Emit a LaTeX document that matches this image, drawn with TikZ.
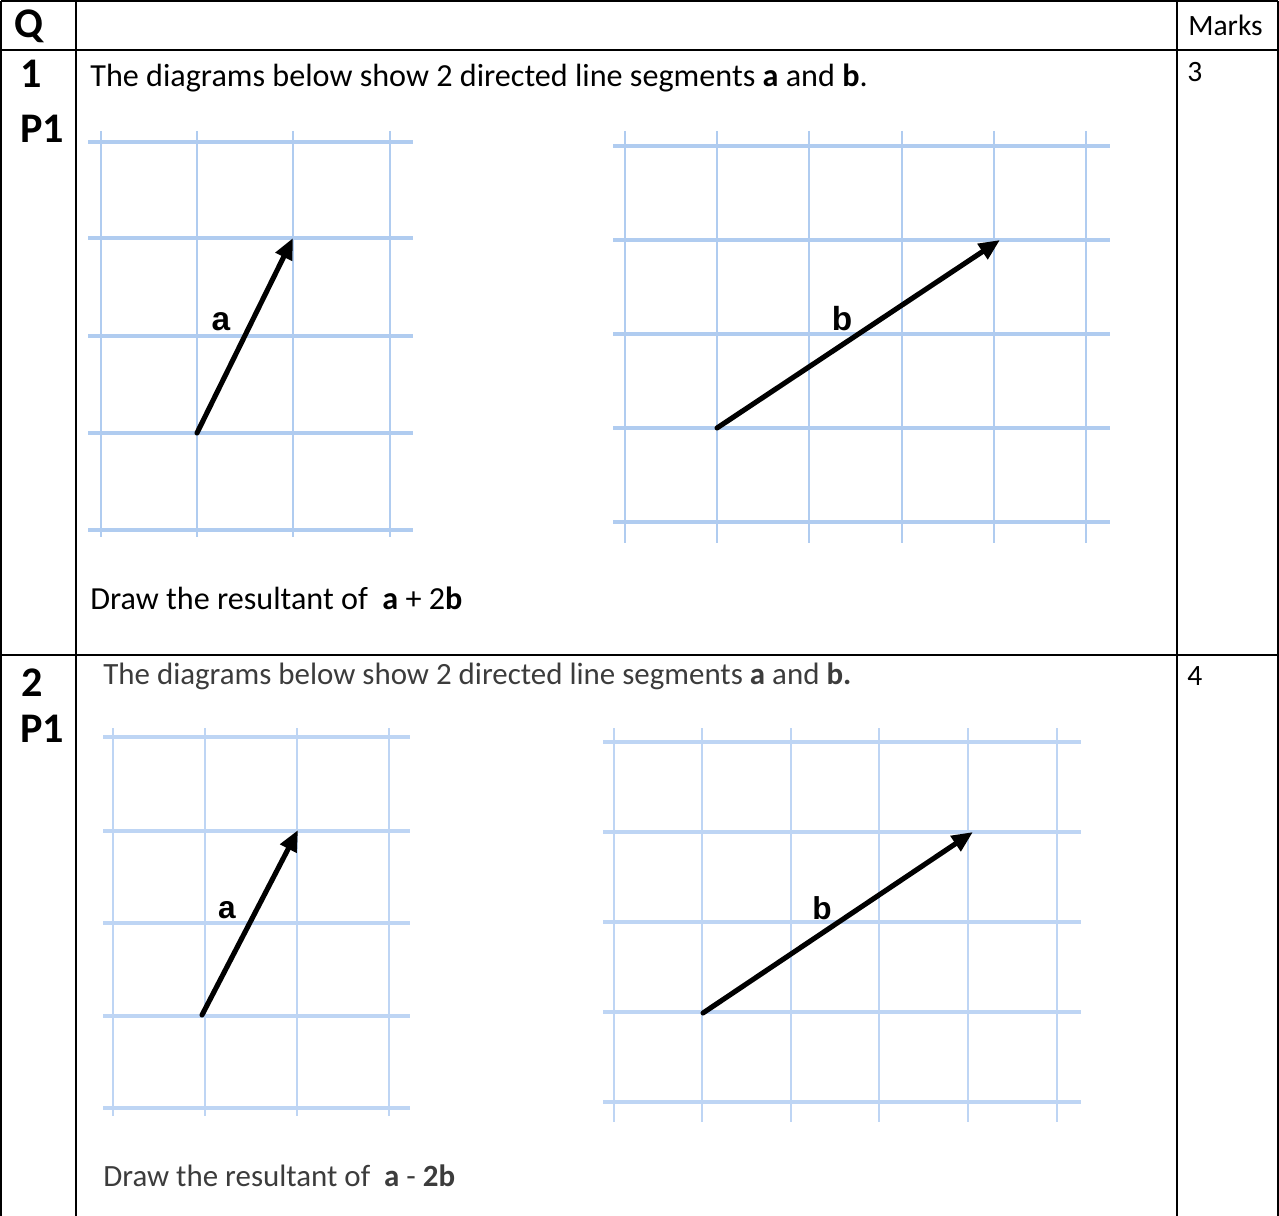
\documentclass[tikz,border=0pt]{standalone}
\usepackage{fontspec}
\setmainfont{Carlito}
\newfontfamily\arialfont{Liberation Sans}
\usetikzlibrary{arrows.meta}

\definecolor{gridblue}{RGB}{176,204,240}
\definecolor{fadeblue}{RGB}{190,213,244}
\definecolor{scangrey}{RGB}{60,60,60}

\tikzset{
  rule/.style={draw=black, line width=1.1pt},
  gridh/.style={line width=2.1pt},
  gridv/.style={line width=1.1pt},
  vec/.style={draw=black, line width=2.9pt, line cap=round, -{Triangle[length=12pt,width=10pt]}},
  veclabel/.style={font=\arialfont\bfseries\fontsize{19}{22}\selectfont, inner sep=0pt},
  qnum/.style={font=\fontsize{24}{28}\selectfont\bfseries, inner sep=0pt},
  body/.style={font=\fontsize{18.3}{22}\selectfont, inner sep=0pt, anchor=west},
  scan/.style={body, text=scangrey, font=\fontsize{17.6}{21}\selectfont},
  marksize/.style={body, font=\fontsize{16.8}{20}\selectfont},
}

\begin{document}
\begin{tikzpicture}[x=0.02cm, y=-0.02cm]
\useasboundingbox (0,0) rectangle (1279,1216);

% table rules
\draw[rule] (1,1) -- (1278,1);
\draw[rule] (1,50) -- (1278,50);
\draw[rule] (1,655) -- (1278,655);
\foreach \x in {1,76,1177,1278}
    \draw[rule] (\x,1) -- (\x,1216);

% headings and numbers
\node[qnum] (q) at (29,26) {Q};
\node[marksize] (marks) at (1188,25) {Marks};

\node[qnum] (n1) at (31,74) {1};
\node[qnum] (p1) at (42,129) {P1};
\node[marksize] (m1) at (1187,72) {3};

\node[qnum] (n2) at (32,683) {2};
\node[qnum] (p2) at (42,729) {P1};
\node[marksize] (m2) at (1187,676) {4};

% question 1
\node[body] (t1) at (90,78) {The diagrams below show 2 directed line segments \textbf{a} and \textbf{b}.};
\node[body] (r1) at (90,598) {Draw the resultant of\ \ \textbf{a} + 2\textbf{b}};

\begin{scope}[draw=gridblue]
    \foreach \x in {101,197,293,390}
        \draw[gridv] (\x,131) -- (\x,537);
    \foreach \y in {142,238,336,433,530}
        \draw[gridh] (88,\y) -- (413,\y);

    \foreach \x in {625,717,809,902,994,1086}
        \draw[gridv] (\x,131) -- (\x,543);
    \foreach \y in {146,240,334,428,522}
        \draw[gridh] (613,\y) -- (1110,\y);
\end{scope}

\coordinate (a1tail) at (197,433);
\coordinate (a1head) at (293,238);
\coordinate (b1tail) at (717,428);
\coordinate (b1head) at (1000,240);
\node[veclabel] (a1lab) at (221,322) {a};
\node[veclabel] (b1lab) at (842,319) {b};

% question 2
\node[scan] (t2) at (103,676) {The diagrams below show 2 directed line segments \textbf{a} and \textbf{b.}};
\node[scan] (r2) at (103,1176) {Draw the resultant of\ \ \textbf{a} - \textbf{2b}};

\begin{scope}[draw=fadeblue]
    \foreach \x in {113,205,297,389}
        \draw[gridv] (\x,728) -- (\x,1116);
    \foreach \y in {737,831,923,1016,1108}
        \draw[gridh] (103,\y) -- (410,\y);

    \foreach \x in {614,702,791,879,968,1057}
        \draw[gridv] (\x,728) -- (\x,1122);
    \foreach \y in {742,832,922,1012,1102}
        \draw[gridh] (603,\y) -- (1081,\y);
\end{scope}

\coordinate (a2tail) at (202,1015);
\coordinate (a2head) at (298,830);
\coordinate (b2tail) at (703,1013);
\coordinate (b2head) at (973,832);
\node[veclabel, font=\arialfont\bfseries\fontsize{18}{21}\selectfont] (a2lab) at (227,910) {a};
\node[veclabel, font=\arialfont\bfseries\fontsize{18}{21}\selectfont] (b2lab) at (822,908) {b};

% directed segments
\begin{scope}[every edge/.style={vec}]
    \path (a1tail) edge (a1head);
    \path (b1tail) edge (b1head);
    \path (a2tail) edge (a2head);
    \path (b2tail) edge (b2head);
\end{scope}
\end{tikzpicture}
\end{document}
